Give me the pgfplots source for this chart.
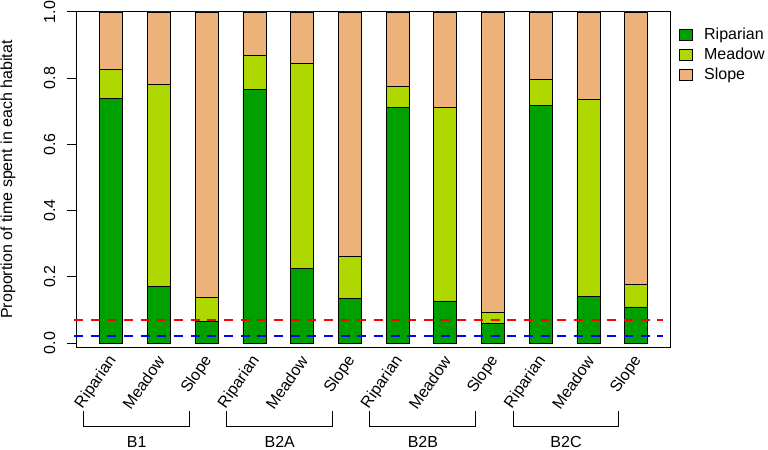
\documentclass[border=0pt]{standalone}
\usepackage{pgfplots}
\pgfplotsset{compat=1.18}
\usepackage{fontspec}
\setmainfont{Liberation Sans}
\definecolor{rip}{RGB}{0,160,0}
\definecolor{mea}{RGB}{175,216,0}
\definecolor{slo}{RGB}{237,178,122}
\newcommand{\fs}{\fontsize{12}{14.4}\selectfont}
\newcommand{\grp}[3]{%
  \draw[line width=0.75pt] (axis cs:#1,-0.205) -- (axis cs:#1,-0.251)
     -- (axis cs:#2,-0.251) -- (axis cs:#2,-0.205);
}
\begin{document}
\begin{tikzpicture}
\pgfplotsset{
  common/.style={
    scale only axis, width=444.75pt, height=251.25pt,
    xmin=-0.72, xmax=11.71, ymin=-0.012, ymax=1.0,
  }
}
\begin{axis}[name=ax, common,
  ybar stacked, bar width=17.25pt,
  xtick={0,1,2,3,4,5,6,7,8,9,10,11},
  xticklabels={Riparian,Meadow,Slope,Riparian,Meadow,Slope,Riparian,Meadow,Slope,Riparian,Meadow,Slope},
  x tick style={draw=none},
  xticklabel style={xshift=1.5pt, yshift=-0.5pt, rotate=55, anchor=east, font=\fs, inner sep=0pt},
  ytick={0,0.2,0.4,0.6,0.8,1.0},
  yticklabels={0.0,0.2,0.4,0.6,0.8,1.0},
  yticklabel style={rotate=90, anchor=south, font=\fs, inner sep=0pt},
  yticklabel shift=8.5pt,
  ytick pos=left,
  tick align=outside, major tick length=7.5pt,
  y tick style={black, line width=0.75pt},
  axis line style={line width=0.75pt},
  ylabel={Proportion of time spent in each habitat},
  every axis y label/.style={at={(axis description cs:-0.1164,0.5)}, rotate=90, anchor=center, font=\fs},
  clip=false,
  legend style={at={(axis description cs:1.015,0.954)}, anchor=north west, draw=none, fill=none,
    font=\fs, inner sep=0pt, row sep=4pt, column sep=8pt,
    nodes={inner sep=0pt, text height=8.5pt, text depth=2.5pt}},
  legend cell align=left,
  legend image code/.code={\draw[#1,/tikz/.cd,line width=0.75pt] (0pt,-4pt) rectangle (10pt,4pt);},
]
\addplot[fill=rip, draw=black, line width=0.6pt] coordinates {
 (0,0.739) (1,0.172) (2,0.066) (3,0.766) (4,0.224) (5,0.135)
 (6,0.713) (7,0.127) (8,0.060) (9,0.719) (10,0.141) (11,0.109)};
\addlegendentry{Riparian}
\addplot[fill=mea, draw=black, line width=0.6pt] coordinates {
 (0,0.087) (1,0.608) (2,0.072) (3,0.103) (4,0.622) (5,0.127)
 (6,0.061) (7,0.584) (8,0.034) (9,0.078) (10,0.595) (11,0.069)};
\addlegendentry{Meadow}
\addplot[fill=slo, draw=black, line width=0.6pt] coordinates {
 (0,0.174) (1,0.220) (2,0.862) (3,0.131) (4,0.154) (5,0.738)
 (6,0.226) (7,0.289) (8,0.906) (9,0.203) (10,0.264) (11,0.822)};
\addlegendentry{Slope}
% group brackets
\grp{-0.58}{1.64}{}
\grp{2.42}{4.64}{}
\grp{5.42}{7.64}{}
\grp{8.42}{10.64}{}
\node[font=\fs, anchor=center] at (axis cs:0.53,-0.298) {B1};
\node[font=\fs, anchor=center] at (axis cs:3.53,-0.298) {B2A};
\node[font=\fs, anchor=center] at (axis cs:6.53,-0.298) {B2B};
\node[font=\fs, anchor=center] at (axis cs:9.53,-0.298) {B2C};
\end{axis}
\begin{axis}[common, hide axis, clip=false]
\addplot[red, line width=1.8pt, dash pattern=on 6.75pt off 5.75pt] coordinates {(-0.786,0.069) (11.56,0.069)};
\addplot[blue, line width=1.8pt, dash pattern=on 6.75pt off 5.75pt] coordinates {(-0.786,0.022) (11.56,0.022)};
\end{axis}
\pgfresetboundingbox
\path (ax.south west) ++(-57.75pt,-77.25pt) rectangle ++(576pt,337.5pt);
\end{tikzpicture}
\end{document}
